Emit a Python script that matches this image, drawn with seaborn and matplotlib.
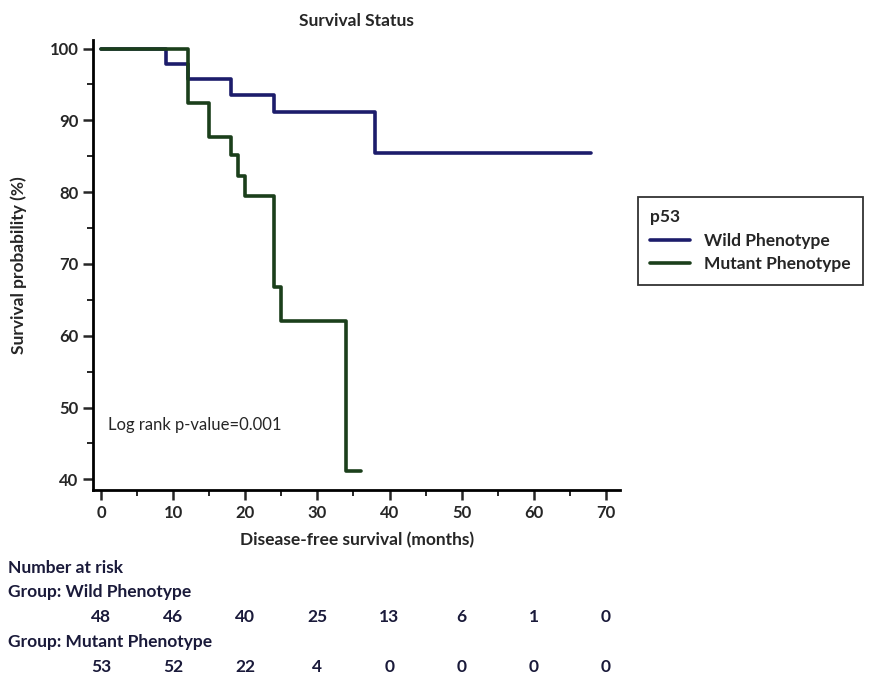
import pandas as pd
import matplotlib.pyplot as plt
import seaborn as sns
from matplotlib.ticker import MultipleLocator

# Kaplan-Meier step points
wild_time = [0, 9, 12, 18, 24, 38, 68]
wild_surv = [100, 97.9, 95.8, 93.5, 91.2, 85.5, 85.5]
mutant_time = [0, 12, 15, 18, 19, 20, 24, 25, 34, 36]
mutant_surv = [100, 92.4, 87.7, 85.2, 82.3, 79.4, 66.8, 62.1, 41.2, 41.2]

groups = ['Wild Phenotype', 'Mutant Phenotype']
colors = ['#1c1c6b', '#1b3f1b']

risk_times = [0, 10, 20, 30, 40, 50, 60, 70]
risk_wild = [48, 46, 40, 25, 13, 6, 1, 0]
risk_mutant = [53, 52, 22, 4, 0, 0, 0, 0]

df = pd.concat([
    pd.DataFrame({'time': wild_time, 'surv': wild_surv, 'group': groups[0]}),
    pd.DataFrame({'time': mutant_time, 'surv': mutant_surv, 'group': groups[1]}),
])

sns.set_style('white')
plt.rcParams['font.family'] = ['Lato', 'DejaVu Sans']

fig = plt.figure(figsize=(8.7, 6.77), dpi=100)
ax = fig.add_axes([0.107, 0.276, 0.606, 0.665])

sns.lineplot(data=df, x='time', y='surv', hue='group', palette=colors,
             drawstyle='steps-post', linewidth=2.6, estimator=None, ax=ax)

ax.set_xlim(-1.1, 72)
ax.set_ylim(38.5, 101.2)
ax.xaxis.set_major_locator(MultipleLocator(10))
ax.xaxis.set_minor_locator(MultipleLocator(5))
ax.yaxis.set_major_locator(MultipleLocator(10))
ax.yaxis.set_minor_locator(MultipleLocator(5))
ax.tick_params(which='major', direction='out', length=7, width=1.8, labelsize=12,
               bottom=True, left=True)
ax.tick_params(which='minor', direction='out', length=4, width=1.4, bottom=True, left=True)
for lab in ax.get_xticklabels() + ax.get_yticklabels():
    lab.set_fontweight('bold')
for s in ['top', 'right']:
    ax.spines[s].set_visible(False)
for s in ['left', 'bottom']:
    ax.spines[s].set_color('black')
    ax.spines[s].set_linewidth(2)

ax.set_xlabel('Disease-free survival (months)', fontsize=12.5, fontweight='bold', labelpad=8)
ax.set_ylabel('Survival probability (%)', fontsize=12.5, fontweight='bold', labelpad=16)
ax.set_title('Survival Status', fontsize=12.5, fontweight='bold', pad=10)

ax.text(1, 47.6, 'Log rank p-value=0.001', fontsize=12, va='center')

leg = ax.legend(title='p53', loc='upper left', bbox_to_anchor=(1.034, 0.652),
                borderaxespad=0, frameon=True, fancybox=False, edgecolor='black',
                fontsize=12.5, title_fontsize=12.5, alignment='left', borderpad=0.7,
                labelspacing=0.45, handlelength=2.3, handletextpad=0.8)
leg.get_frame().set_linewidth(1.3)
leg.get_title().set_fontweight('bold')
for t in leg.get_texts():
    t.set_fontweight('bold')

# number at risk table
ink = '#1a1a3a'
fig.text(8 / 870, 1 - 568 / 677, 'Number at risk', fontsize=12.5, fontweight='bold',
         color=ink, va='center')
fig.text(8 / 870, 1 - 592 / 677, 'Group: Wild Phenotype', fontsize=12.5, fontweight='bold',
         color=ink, va='center')
fig.text(8 / 870, 1 - 642 / 677, 'Group: Mutant Phenotype', fontsize=12.5, fontweight='bold',
         color=ink, va='center')
tr = ax.get_xaxis_transform()
for t, w, m in zip(risk_times, risk_wild, risk_mutant):
    ax.text(t, -(617 - 490) / (0.665 * 677), str(w), transform=tr, ha='center', va='center',
            fontsize=12.5, fontweight='bold', color=ink, clip_on=False)
    ax.text(t, -(667 - 490) / (0.665 * 677), str(m), transform=tr, ha='center', va='center',
            fontsize=12.5, fontweight='bold', color=ink, clip_on=False)

fig.savefig('out.png', dpi=100)
